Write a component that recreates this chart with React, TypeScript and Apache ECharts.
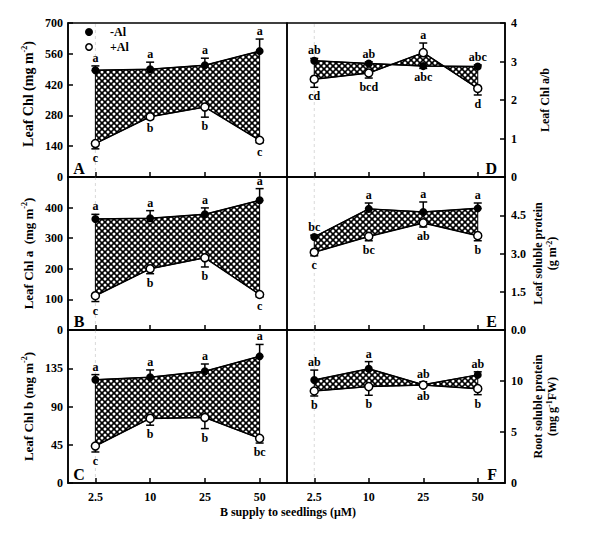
import React, { useEffect, useRef } from "react";
import * as echarts from "echarts";

const categories = ["2.5", "10", "25", "50"];

// Panel A: Leaf Chl (mg m-2)
const chlMinus = [485, 490, 508, 572];
const chlMinusErr = [505, 522, 540, 627];
const chlMinusLetters = ["a", "a", "a", "a"];
const chlMinusPos = ["up", "up", "up", "up"];
const chlPlus = [152, 274, 318, 167];
const chlPlusErr = [128, 262, 272, 156];
const chlPlusLetters = ["c", "b", "b", "c"];
const chlPlusPos = ["down", "down", "down", "down"];

// Panel B: Leaf Chl a (mg m-2)
const chlaMinus = [363, 365, 378, 424];
const chlaMinusErr = [378, 390, 399, 462];
const chlaMinusLetters = ["a", "a", "a", "a"];
const chlaMinusPos = ["up", "up", "up", "up"];
const chlaPlus = [112, 200, 236, 116];
const chlaPlusErr = [93, 184, 206, 108];
const chlaPlusLetters = ["c", "b", "b", "c"];
const chlaPlusPos = ["down", "down", "down", "down"];

// Panel C: Leaf Chl b (mg m-2)
const chlbMinus = [121.5, 124.5, 131.5, 149];
const chlbMinusErr = [127.5, 133, 140, 163];
const chlbMinusLetters = ["a", "a", "a", "a"];
const chlbMinusPos = ["up", "up", "up", "up"];
const chlbPlus = [43.5, 76, 77, 52.5];
const chlbPlusErr = [36.5, 68, 64, 47];
const chlbPlusLetters = ["c", "b", "b", "bc"];
const chlbPlusPos = ["down", "down", "down", "down"];

// Panel D: Leaf Chl a/b
const ratioMinus = [3.02, 2.95, 2.88, 2.87];
const ratioMinusErr = [3.08, 2.99, 2.82, 2.91];
const ratioMinusLetters = ["ab", "ab", "abc", "abc"];
const ratioMinusPos = ["up", "up", "down", "up"];
const ratioPlus = [2.54, 2.7, 3.23, 2.3];
const ratioPlusErr = [2.33, 2.57, 3.48, 2.13];
const ratioPlusLetters = ["cd", "bcd", "a", "d"];
const ratioPlusPos = ["down", "down", "up", "down"];

// Panel E: Leaf soluble protein (g m-2)
const leafProtMinus = [3.65, 4.75, 4.63, 4.77];
const leafProtMinusErr = [3.72, 4.98, 5.02, 4.98];
const leafProtMinusLetters = ["bc", "a", "a", "a"];
const leafProtMinusPos = ["up", "up", "up", "up"];
const leafProtPlus = [3.05, 3.67, 4.2, 3.7];
const leafProtPlusErr = [2.91, 3.5, 4.04, 3.5];
const leafProtPlusLetters = ["c", "bc", "ab", "b"];
const leafProtPlusPos = ["down", "down", "down", "down"];

// Panel F: Root soluble protein (mg g-1 FW)
const rootProtMinus = [10.1, 11.2, 9.64, 10.6];
const rootProtMinusErr = [11.07, 11.9, 9.93, 10.9];
const rootProtMinusLetters = ["ab", "a", "ab", "ab"];
const rootProtMinusPos = ["up", "up", "up", "up"];
const rootProtPlus = [9.02, 9.45, 9.6, 9.25];
const rootProtPlusErr = [8.53, 8.6, 9.45, 8.66];
const rootProtPlusLetters = ["b", "b", "ab", "b"];
const rootProtPlusPos = ["down", "down", "down", "down"];

const yMax = [700, 500, 180, 4, 6, 15];
const yInterval = [140, 100, 45, 1, 1.5, 5];
const yDecimals = [0, 0, 0, 0, 1, 0];
const showMax = [true, false, false, true, false, false];
const panelLetters = ["A", "B", "C", "D", "E", "F"];
const yTitles = [
  "Leaf Chl (mg m{sup|-2})",
  "Leaf Chl a  (mg m{sup|-2})",
  "Leaf Chl b (mg m{sup|-2})",
  "Leaf Chl a/b",
  "Leaf soluble protein\n(g m{sup|-2})",
  "Root soluble protein\n(mg g{sup|-1}FW)",
];
const yTitleSize = [14, 13, 13, 12, 12, 12];

const panelData = [
  [chlMinus, chlMinusErr, chlMinusLetters, chlMinusPos, chlPlus, chlPlusErr, chlPlusLetters, chlPlusPos],
  [chlaMinus, chlaMinusErr, chlaMinusLetters, chlaMinusPos, chlaPlus, chlaPlusErr, chlaPlusLetters, chlaPlusPos],
  [chlbMinus, chlbMinusErr, chlbMinusLetters, chlbMinusPos, chlbPlus, chlbPlusErr, chlbPlusLetters, chlbPlusPos],
  [ratioMinus, ratioMinusErr, ratioMinusLetters, ratioMinusPos, ratioPlus, ratioPlusErr, ratioPlusLetters, ratioPlusPos],
  [leafProtMinus, leafProtMinusErr, leafProtMinusLetters, leafProtMinusPos, leafProtPlus, leafProtPlusErr, leafProtPlusLetters, leafProtPlusPos],
  [rootProtMinus, rootProtMinusErr, rootProtMinusLetters, rootProtMinusPos, rootProtPlus, rootProtPlusErr, rootProtPlusLetters, rootProtPlusPos],
];

// layout
const colLeft = [68, 287];
const colWidth = [219, 218];
const rowTop = [23, 177, 330];
const rowHeight = [154, 153, 153];
const FONT = '"Liberation Serif", "Times New Roman", serif';

const patternSvg =
  "<svg xmlns='http://www.w3.org/2000/svg' width='6' height='6'>" +
  "<rect width='6' height='6' fill='#000'/>" +
  "<circle cx='3' cy='3' r='1.5' fill='#fff'/>" +
  "<circle cx='0' cy='0' r='1.5' fill='#fff'/>" +
  "<circle cx='6' cy='0' r='1.5' fill='#fff'/>" +
  "<circle cx='0' cy='6' r='1.5' fill='#fff'/>" +
  "<circle cx='6' cy='6' r='1.5' fill='#fff'/>" +
  "</svg>";
const patternUrl = "data:image/svg+xml;charset=utf-8," + encodeURIComponent(patternSvg);

export default function App() {
  const ref = useRef<HTMLDivElement>(null);

  useEffect(() => {
    if (!ref.current) return;
    const chart = echarts.init(ref.current, undefined, { renderer: "svg" });
    const pattern: any = { image: patternUrl, repeat: "repeat", imageWidth: 6, imageHeight: 6 };

    const grids: any[] = [];
    const xAxes: any[] = [];
    const yAxes: any[] = [];
    const series: any[] = [];
    const graphics: any[] = [];

    for (let p = 0; p < 6; p++) {
      const col = p < 3 ? 0 : 1;
      const row = p % 3;
      grids.push({
        left: colLeft[col],
        top: rowTop[row],
        width: colWidth[col],
        height: rowHeight[row],
        show: true,
        borderColor: "#000",
        borderWidth: 1.5,
        backgroundColor: "transparent",
      });
      xAxes.push({
        type: "category",
        gridIndex: p,
        data: categories,
        boundaryGap: true,
        axisLine: { show: true, lineStyle: { color: "#000", width: 1.5 } },
        axisTick: { show: true, inside: true, length: 5, alignWithLabel: true, lineStyle: { color: "#000", width: 1.5 } },
        axisLabel: {
          show: row === 2,
          color: "#000",
          fontFamily: FONT,
          fontWeight: "bold",
          fontSize: 12,
          margin: 8,
        },
        splitLine: { show: false },
      });
      const dec = yDecimals[p];
      yAxes.push({
        type: "value",
        gridIndex: p,
        position: col === 0 ? "left" : "right",
        min: 0,
        max: yMax[p],
        interval: yInterval[p],
        axisLine: { show: true, lineStyle: { color: "#000", width: 1.5 } },
        axisTick: { show: true, inside: true, length: 5, lineStyle: { color: "#000", width: 1.5 } },
        axisLabel: {
          color: "#000",
          fontFamily: FONT,
          fontWeight: "bold",
          fontSize: 12,
          margin: col === 0 ? 5 : 6,
          showMaxLabel: showMax[p],
          showMinLabel: true,
          formatter: (v: number) => v.toFixed(dec),
        },
        splitLine: { show: false },
      });

      const [mV, mE, mL, mP, pV, pE, pL, pP] = panelData[p] as any[];

      // faint dashed guide at first category
      series.push({
        type: "custom",
        xAxisIndex: p,
        yAxisIndex: p,
        silent: true,
        z: 0,
        data: [[0, 0]],
        renderItem: (params: any, api: any) => {
          const a = api.coord([0, 0]);
          const b = api.coord([0, yMax[p]]);
          return {
            type: "line",
            shape: { x1: a[0], y1: a[1], x2: b[0], y2: b[1] },
            style: { stroke: "#d9d9d9", lineWidth: 1, lineDash: [3, 3] },
          };
        },
      });

      // hatched region between the two treatments
      series.push({
        type: "custom",
        xAxisIndex: p,
        yAxisIndex: p,
        silent: true,
        z: 1,
        data: [[0, mV[0]]],
        renderItem: (params: any, api: any) => {
          const top = mV.map((v: number, i: number) => api.coord([i, v]));
          const bot = pV.map((v: number, i: number) => api.coord([i, v])).reverse();
          return {
            type: "polygon",
            shape: { points: top.concat(bot) },
            style: { fill: pattern, stroke: "#000", lineWidth: 1 },
          };
        },
      });

      const errSeries = (vals: number[], ends: number[]) => ({
        type: "custom",
        xAxisIndex: p,
        yAxisIndex: p,
        silent: true,
        z: 3,
        data: vals.map((v, i) => [i, v, ends[i]]),
        encode: { x: 0, y: [1, 2] },
        renderItem: (params: any, api: any) => {
          const i = api.value(0);
          const a = api.coord([i, api.value(1)]);
          const b = api.coord([i, api.value(2)]);
          return {
            type: "group",
            children: [
              { type: "line", shape: { x1: a[0], y1: a[1], x2: b[0], y2: b[1] }, style: { stroke: "#000", lineWidth: 1.5 } },
              { type: "line", shape: { x1: b[0] - 4, y1: b[1], x2: b[0] + 4, y2: b[1] }, style: { stroke: "#000", lineWidth: 1.5 } },
            ],
          };
        },
      });

      const letterSeries = (ends: number[], letters: string[], pos: string[]) => ({
        type: "custom",
        xAxisIndex: p,
        yAxisIndex: p,
        silent: true,
        z: 6,
        data: ends.map((e, i) => [i, e]),
        renderItem: (params: any, api: any) => {
          const idx = params.dataIndex;
          const c = api.coord([api.value(0), api.value(1)]);
          const up = pos[idx] === "up";
          return {
            type: "text",
            x: c[0],
            y: up ? c[1] - 2 : c[1] + 3,
            style: {
              text: letters[idx],
              fill: "#000",
              fontFamily: FONT,
              fontWeight: "bold",
              fontSize: 12,
              align: "center",
              textAlign: "center",
              verticalAlign: up ? "bottom" : "top",
              textVerticalAlign: up ? "bottom" : "top",
            },
          };
        },
      });

      series.push(errSeries(mV, mE));
      series.push(errSeries(pV, pE));

      series.push({
        type: "line",
        name: "-Al",
        xAxisIndex: p,
        yAxisIndex: p,
        data: mV,
        symbol: "circle",
        symbolSize: 8,
        z: 4,
        itemStyle: { color: "#000" },
        lineStyle: { color: "#000", width: 1.5 },
      });
      series.push({
        type: "line",
        name: "+Al",
        xAxisIndex: p,
        yAxisIndex: p,
        data: pV,
        symbol: "circle",
        symbolSize: 8,
        z: 5,
        itemStyle: { color: "#fff", borderColor: "#000", borderWidth: 1.5 },
        lineStyle: { color: "#000", width: 1.5 },
      });

      series.push(letterSeries(mE, mL, mP));
      series.push(letterSeries(pE, pL, pP));

      // panel letter
      const gx = colLeft[col];
      const gy = rowTop[row] + rowHeight[row];
      graphics.push({
        type: "text",
        x: col === 0 ? gx + 11 : gx + colWidth[col] - 8,
        y: gy - 9,
        style: {
          text: panelLetters[p],
          fill: "#000",
          fontFamily: FONT,
          fontWeight: "bold",
          fontSize: 16,
          align: col === 0 ? "center" : "right",
          verticalAlign: "middle",
        },
      });

      // y-axis title
      const cy = rowTop[row] + rowHeight[row] / 2 + (p === 0 ? -6 : 0);
      const fs = yTitleSize[p];
      graphics.push({
        type: "text",
        x: col === 0 ? 28 : 545,
        y: cy,
        rotation: Math.PI / 2,
        style: {
          text: yTitles[p],
          fill: "#000",
          fontFamily: FONT,
          fontWeight: "bold",
          fontSize: fs,
          lineHeight: fs + 2,
          align: "center",
          verticalAlign: "middle",
          rich: {
            sup: { fontFamily: FONT, fontWeight: "bold", fontSize: 8, verticalAlign: "top", lineHeight: fs + 2 },
          },
        },
      });
    }

    // x-axis title
    graphics.push({
      type: "text",
      x: 288,
      y: 512,
      style: {
        text: "B supply to seedlings (\u03bcM)",
        fill: "#000",
        fontFamily: FONT,
        fontWeight: "bold",
        fontSize: 12,
        align: "center",
        verticalAlign: "middle",
      },
    });

    // legend
    graphics.push({ type: "circle", shape: { cx: 89, cy: 32, r: 4 }, style: { fill: "#000" } });
    graphics.push({ type: "circle", shape: { cx: 89, cy: 47, r: 3.2 }, style: { fill: "#fff", stroke: "#000", lineWidth: 1.5 } });
    graphics.push({
      type: "text",
      x: 110,
      y: 32,
      style: { text: "-Al", fill: "#000", fontFamily: FONT, fontWeight: "bold", fontSize: 12, align: "left", verticalAlign: "middle" },
    });
    graphics.push({
      type: "text",
      x: 110,
      y: 47,
      style: { text: "+Al", fill: "#000", fontFamily: FONT, fontWeight: "bold", fontSize: 12, align: "left", verticalAlign: "middle" },
    });

    chart.setOption({
      animation: false,
      backgroundColor: "#fff",
      grid: grids,
      xAxis: xAxes,
      yAxis: yAxes,
      series,
      graphic: { elements: graphics },
    });

    return () => chart.dispose();
  }, []);

  return (
    <div
      ref={ref}
      style={{ position: "fixed", left: 0, top: 0, width: 600, height: 550, background: "#fff" }}
    />
  );
}
